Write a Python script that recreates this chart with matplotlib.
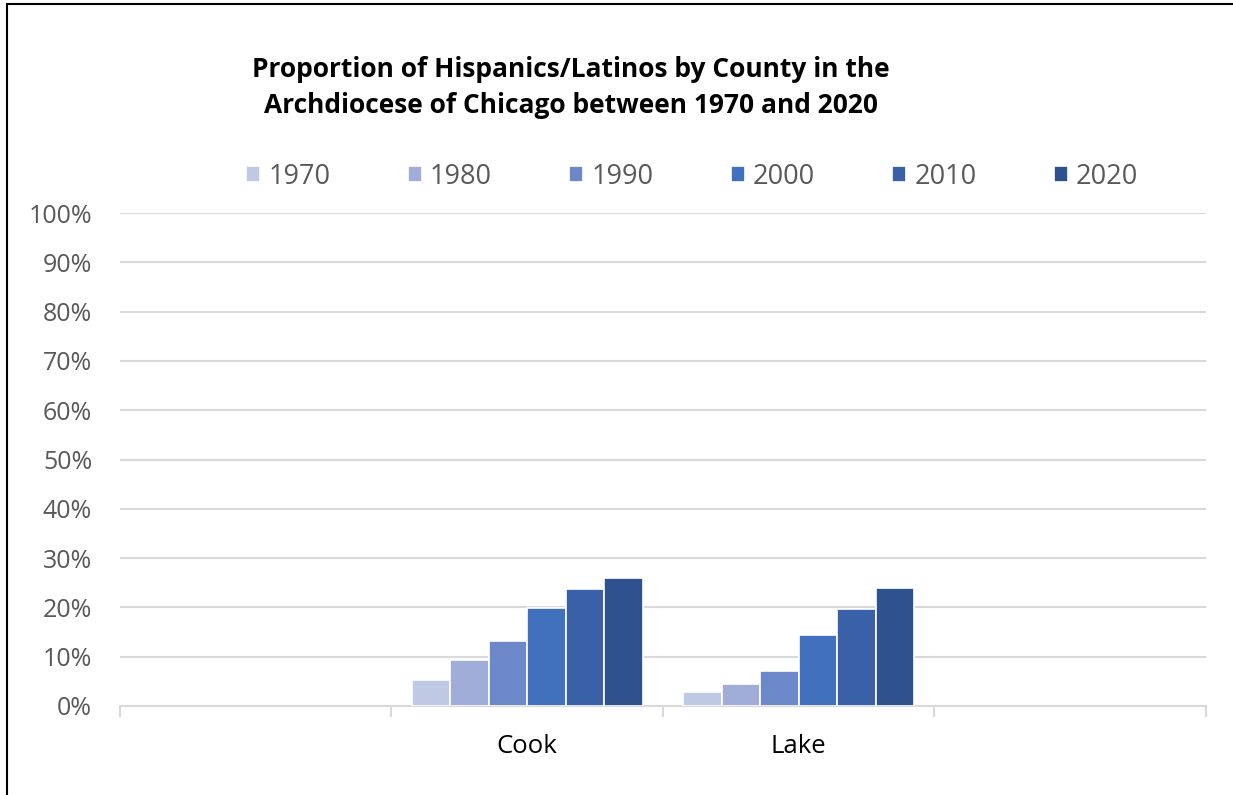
import matplotlib.pyplot as plt
import matplotlib.patches as mpatches
import numpy as np

counties = ['', 'Cook', 'Lake', '']
years = ['1970', '1980', '1990', '2000', '2010', '2020']
cook = [0.053, 0.093, 0.131, 0.198, 0.238, 0.260]
lake = [0.029, 0.045, 0.070, 0.143, 0.197, 0.239]
colors = ['#BFC9E4', '#9FADD8', '#6D88C9', '#4170BD', '#3A60A8', '#2F528F']

plt.rcParams['font.family'] = ['Open Sans', 'DejaVu Sans']

fig = plt.figure(figsize=(12.33, 7.95), dpi=100)
ax = fig.add_axes([0.0973, 0.112, 0.8807, 0.620])

# outer frame (only left/top visible in the original)
fig.patches.append(mpatches.Rectangle((0.006, -0.05), 1.1, 1.045, transform=fig.transFigure,
                                      fill=False, edgecolor='black', linewidth=1.5))

x = np.arange(len(counties))
width = 0.142
values = {yr: [np.nan, cook[i], lake[i], np.nan] for i, yr in enumerate(years)}
for i, yr in enumerate(years):
    off = (i - 2.5) * width
    ax.bar(x + off, values[yr], width, color=colors[i], edgecolor='white', linewidth=1.2,
           label=yr, zorder=3)

ax.set_xlim(-0.5, 3.5)
ax.set_ylim(0, 1.0)
ax.set_yticks(np.arange(0, 1.01, 0.1))
ax.set_yticklabels([f'{int(round(v * 100))}%' for v in np.arange(0, 1.01, 0.1)],
                   fontsize=18, color='#595959')
ax.yaxis.grid(True, color='#D9D9D9', linewidth=1.5, zorder=0)
ax.tick_params(axis='y', length=0, pad=20)

ax.set_xticks(x)
ax.set_xticklabels(counties, fontsize=18.5, color='black')
ax.tick_params(axis='x', length=0, pad=20)
# category boundary tick marks
ax.set_xticks(np.arange(-0.5, 3.6, 1.0), minor=True)
ax.tick_params(axis='x', which='minor', length=8, color='#D9D9D9', width=1.5)

for s in ['top', 'right', 'left']:
    ax.spines[s].set_visible(False)
ax.spines['bottom'].set_color('#D9D9D9')
ax.spines['bottom'].set_linewidth(1.5)

fig.text(0.463, 0.890, 'Proportion of Hispanics/Latinos by County in the\nArchdiocese of Chicago between 1970 and 2020',
         ha='center', va='center', fontsize=19, fontweight='bold', linespacing=1.42)

ax.legend(loc='center', bbox_to_anchor=(0.527, 1.074), ncol=6, frameon=False, fontsize=19.5,
          labelcolor='#595959', handlelength=0.52, handleheight=0.52, columnspacing=2.85,
          handletextpad=0.3)

fig.savefig('out.png', dpi=100)
